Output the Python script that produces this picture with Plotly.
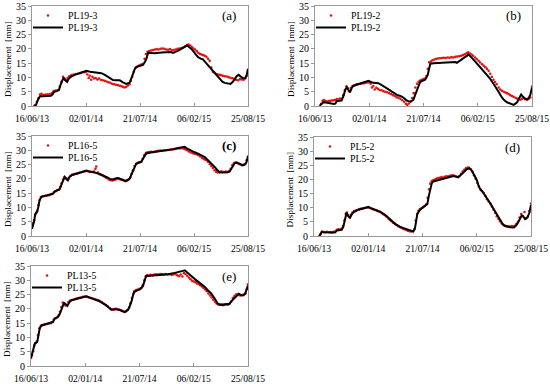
import pandas as pd
import plotly.graph_objects as go

START = "2013-06-16"
END = "2015-08-25"
tick_dates = ["2013-06-16", "2014-01-02", "2014-07-21", "2015-02-06", "2015-08-25"]
tick_labels = ["16/06/13", "02/01/14", "21/07/14", "06/02/15", "25/08/15"]
y_ticks = [0, 5, 10, 15, 20, 25, 30, 35]
y_title = "Displacement  [mm]"

# ---- (a) PL19-3 : measured (dots) and modelled (line); days since 16/06/13 ----
a_meas_days = [8,13,18,24,30,35,42,50,58,66,74,80,88,96,103,109,115,120,126,132,138,146,154,162,170,178,186,194,200,205,210,214,219,224,230,236,242,248,255,262,269,276,283,290,297,304,311,318,325,331,337,343,349,355,361,366,371,377,383,390,397,404,411,417,422,428,434,441,448,455,462,469,476,483,490,497,504,511,518,525,532,539,546,553,560,567,574,580,586,592,598,604,610,616,622,628,634,640,646,652,658,664,670,676,682,688,694,700,707,714,721,728,735,742,749,756,763,770,777,784,790,795,800]
a_meas_vals = [0.0,0.3,1.5,2.8,4.0,4.3,3.9,4.0,4.1,4.2,4.5,5.2,5.4,5.6,6.8,8.5,10.2,9.6,9.2,9.8,10.4,10.8,11.0,11.2,11.3,11.5,11.7,11.8,11.9,11.0,9.8,10.6,9.2,10.2,9.6,9.8,9.3,9.6,9.2,9.0,8.8,8.6,8.3,8.1,7.8,7.6,7.4,7.3,7.1,6.9,6.7,6.5,6.7,7.2,7.6,8.8,10.2,12.0,13.4,13.8,14.2,14.5,14.8,16.5,18.2,19.0,19.2,19.4,19.6,19.8,19.9,19.8,20.0,20.1,20.0,19.8,19.7,19.9,19.5,19.6,19.8,20.0,20.1,20.3,20.5,20.9,21.3,21.5,21.2,20.6,20.1,19.8,19.2,18.6,18.2,18.0,17.8,17.6,17.2,16.5,15.8,13.5,12.0,11.6,11.2,11.0,10.9,10.8,10.6,10.4,10.3,10.1,9.9,9.7,9.5,9.2,9.0,9.4,9.3,9.2,9.6,10.5,12.5]
a_model_days = [10,16,22,30,40,55,70,76,82,92,100,106,112,117,123,130,136,142,158,183,201,215,232,257,270,281,290,300,312,325,337,349,362,368,374,380,386,398,411,417,423,430,454,480,504,515,522,530,540,553,565,575,585,596,605,615,625,633,645,658,668,677,686,695,705,714,725,735,743,751,758,765,772,781,790,795,800]
a_model_vals = [0.0,0.6,2.2,3.4,3.4,3.5,3.6,4.0,5.0,5.2,5.6,7.5,9.2,9.9,9.0,8.4,9.5,10.1,10.9,11.6,12.3,12.0,11.8,11.5,10.9,10.2,9.5,9.1,9.0,9.0,8.3,7.7,8.2,9.5,11.2,12.8,13.6,14.0,14.4,15.2,16.3,18.6,18.5,18.7,18.9,18.9,18.6,18.8,19.3,20.0,20.6,21.2,20.4,19.4,18.2,17.1,16.6,16.3,15.0,13.6,12.5,11.6,10.4,9.3,8.5,8.1,7.9,7.7,8.4,9.5,10.4,10.9,10.3,9.7,9.8,10.8,13.0]

# ---- (b) PL19-2 ----
b_meas_days = [18,23,28,33,38,44,50,56,62,68,74,80,86,92,98,104,110,116,121,126,132,138,145,152,159,166,173,180,187,194,200,205,210,215,220,226,232,238,245,252,259,266,273,280,287,294,301,308,315,322,329,335,340,346,352,358,364,370,376,382,388,394,400,406,411,416,421,427,433,440,447,454,461,468,475,482,489,496,503,510,517,524,531,538,545,552,559,565,571,577,583,590,596,603,609,616,622,628,634,640,646,652,658,664,670,677,683,689,696,702,708,714,720,726,732,739,745,751,757,763,769,775,782,788,794,800]
b_meas_vals = [0.0,0.8,1.8,2.1,1.7,1.6,1.7,1.8,1.9,2.0,2.1,2.4,2.3,2.6,2.5,3.8,5.5,6.9,6.2,5.2,6.3,7.0,7.2,7.5,7.6,7.7,7.9,8.0,8.1,8.2,8.3,7.8,6.5,7.0,5.8,6.4,6.0,5.6,5.5,5.2,5.0,4.8,4.5,4.2,3.8,3.5,3.1,2.8,2.5,2.0,1.5,0.8,0.4,0.9,1.5,2.8,4.5,6.5,7.8,8.5,8.9,9.2,9.4,9.6,10.5,13.0,15.3,15.6,16.0,16.3,16.5,16.6,16.7,16.8,16.9,16.8,17.0,16.9,17.1,17.0,17.2,17.3,17.4,17.6,17.8,18.1,18.5,18.8,18.4,18.0,17.6,17.0,16.4,15.8,15.2,14.6,14.1,13.6,13.0,12.3,11.3,10.2,9.2,8.4,7.6,6.5,5.8,5.3,5.0,4.7,4.5,4.2,3.8,3.5,3.2,2.9,2.6,2.4,2.2,2.5,2.8,2.4,2.2,2.5,3.0,6.8]
b_model_days = [18,25,31,40,55,70,76,80,90,98,105,112,117,123,129,136,142,155,166,182,197,206,215,234,246,258,268,277,290,302,312,320,330,338,345,351,357,363,369,375,382,388,398,406,415,420,425,437,449,468,486,500,511,517,523,530,542,555,566,575,585,594,603,612,622,634,646,658,671,680,689,698,708,720,732,739,745,752,760,767,775,782,788,794,800]
b_model_vals = [0.2,1.0,1.3,1.2,0.9,0.7,0.9,1.7,1.8,1.9,3.5,5.8,6.5,5.5,4.8,6.4,7.1,7.5,7.8,8.3,8.8,8.4,8.1,8.0,7.4,6.6,6.0,5.4,4.6,3.9,3.6,3.3,2.6,1.9,1.7,1.6,1.8,2.2,3.8,5.4,7.2,8.5,8.9,9.2,10.7,13.0,14.8,15.0,15.1,15.2,15.3,15.5,15.6,15.4,15.1,15.6,16.5,17.3,18.0,17.2,16.3,15.2,14.2,13.2,12.4,11.0,9.5,7.8,6.0,4.5,3.0,2.0,1.3,0.8,0.4,0.8,1.3,2.6,4.0,3.2,2.5,2.4,2.8,4.0,6.5]

# ---- (c) PL16-5 ----
c_meas_days = [0,4,8,12,16,20,24,28,33,39,45,51,57,63,69,75,81,87,93,99,105,110,115,120,125,130,136,142,148,154,160,167,174,181,188,195,202,209,216,223,230,235,238,244,250,256,262,268,274,280,286,292,298,304,310,316,322,328,334,340,346,352,358,364,369,374,380,386,392,398,404,410,416,422,428,434,441,448,455,462,469,476,483,490,497,504,511,518,525,532,539,546,553,560,567,574,581,588,595,602,609,616,623,630,637,644,651,658,664,670,676,682,688,694,700,706,712,718,724,730,736,742,748,754,760,766,772,778,784,790,795,800]
c_meas_vals = [3.8,4.5,5.5,7.5,8.2,8.8,10.8,12.6,13.6,13.9,14.0,14.1,14.2,14.3,14.5,14.7,15.3,15.6,16.0,16.3,17.2,18.5,19.8,20.6,20.2,19.8,20.4,21.0,21.4,21.6,21.8,21.9,22.1,22.3,22.5,22.7,22.8,22.6,22.4,22.5,22.6,23.5,24.3,22.2,21.7,21.5,21.2,20.8,20.4,20.1,19.7,19.5,19.4,19.6,19.8,20.1,20.0,19.8,19.6,19.4,19.2,19.4,19.8,20.5,21.8,23.0,24.5,25.3,25.6,25.8,26.0,27.0,28.3,29.0,29.3,29.4,29.5,29.4,29.6,29.7,29.8,29.9,29.8,30.0,30.0,30.1,30.2,30.3,30.4,30.5,30.6,30.6,30.7,30.6,30.4,30.0,29.6,29.2,29.0,28.8,28.6,28.3,27.8,27.3,26.9,26.6,26.0,25.2,24.5,23.8,23.0,22.5,22.2,22.3,22.6,22.5,22.4,22.6,22.4,22.7,23.5,24.8,25.5,25.7,25.6,25.2,25.0,24.8,24.9,25.3,26.5,27.8]
c_model_days = [0,4,8,12,18,22,28,35,48,59,72,78,84,95,102,110,115,121,127,133,140,146,158,170,185,201,214,226,240,251,260,269,279,288,300,309,318,325,331,340,349,356,362,368,374,380,386,397,405,411,417,423,440,454,475,504,525,541,555,565,575,590,603,615,628,640,650,658,668,677,686,695,705,714,724,732,738,744,750,757,763,769,775,781,788,794,800]
c_model_vals = [2.5,3.8,5.2,7.6,8.3,9.5,12.5,13.7,14.0,14.2,14.6,14.8,15.6,16.0,16.3,18.2,19.3,20.7,20.0,19.5,20.8,21.2,21.6,21.9,22.4,22.8,22.6,22.4,22.0,21.6,21.3,21.0,20.5,20.0,19.8,20.1,20.3,20.1,19.8,19.5,19.3,19.6,20.1,21.5,23.0,24.3,25.3,25.7,25.9,27.0,28.2,28.9,29.2,29.4,29.7,30.0,30.4,30.8,31.1,31.2,30.6,29.8,29.3,28.8,28.2,27.6,26.7,26.0,25.0,24.1,23.1,22.3,22.2,22.2,22.3,22.6,23.5,24.7,25.4,25.7,25.6,25.3,25.0,24.8,25.0,25.7,27.9]

# ---- (d) PL5-2 ----
d_meas_days = [20,25,30,36,42,48,54,60,66,72,78,84,90,96,102,107,112,117,121,126,131,136,142,148,154,160,166,172,178,184,190,196,202,208,214,220,226,232,238,244,250,256,262,268,274,280,286,292,298,304,310,316,322,328,334,340,346,352,358,364,370,375,380,385,390,396,402,408,414,419,424,429,434,440,446,452,458,464,470,476,482,488,494,500,506,512,518,524,530,536,542,548,554,560,566,572,578,584,590,596,602,608,614,620,626,632,638,644,650,656,662,668,674,680,686,692,698,704,710,716,722,728,734,740,746,752,758,764,770,776,782,788,794,800]
d_meas_vals = [0.0,0.8,1.6,1.4,1.3,1.5,1.3,1.4,1.2,1.5,1.6,2.2,2.4,2.3,2.6,3.5,5.5,7.8,8.3,7.2,6.6,7.5,8.3,8.8,9.0,9.2,9.4,9.6,9.7,9.8,10.0,10.1,10.2,9.9,9.6,9.4,9.2,9.0,8.7,8.5,8.1,7.7,7.3,6.8,6.2,5.7,5.2,4.7,4.3,3.9,3.5,3.2,2.9,2.6,2.4,2.1,1.9,1.7,1.6,1.7,2.5,5.5,7.8,8.8,9.4,9.8,10.2,10.6,11.2,13.5,16.5,18.5,19.4,19.8,20.0,20.3,20.5,20.6,20.8,20.7,20.9,21.1,21.0,21.3,21.4,21.5,21.3,21.0,20.8,21.2,22.0,22.8,23.4,23.9,24.2,24.1,23.6,22.8,21.5,20.2,18.8,17.5,16.4,15.8,15.2,14.2,13.0,12.2,11.5,10.4,9.3,8.2,7.0,6.0,5.2,4.4,3.9,3.6,3.5,3.4,3.3,3.5,3.4,3.6,4.2,5.0,6.5,7.8,7.0,8.5,6.2,6.8,8.8,11.5]
d_model_days = [20,28,34,47,62,77,84,102,108,114,120,127,133,139,145,163,182,200,212,225,243,262,280,299,317,336,354,366,372,377,381,391,409,418,423,428,434,440,465,489,514,525,532,544,555,563,573,580,587,594,600,606,612,621,630,640,649,658,667,676,686,695,704,714,723,737,745,753,760,766,772,778,787,794,800]
d_model_vals = [0.0,1.4,1.3,1.2,1.1,1.2,1.9,2.2,3.2,6.0,8.2,7.0,6.5,7.6,8.4,9.3,9.8,10.2,9.7,9.3,8.6,7.5,5.8,4.3,3.2,2.6,1.8,1.6,2.6,5.5,7.8,9.3,10.5,11.3,14.0,16.6,18.6,19.3,20.0,20.6,21.2,21.0,20.8,21.8,23.0,23.6,23.9,23.3,22.2,21.0,19.8,18.0,16.6,15.7,14.6,13.0,11.7,10.3,8.9,7.2,5.5,4.3,3.5,3.2,3.1,3.0,3.7,4.9,6.4,7.3,6.8,6.0,6.6,8.2,11.0]

# ---- (e) PL13-5 ----
e_meas_days = [0,4,8,12,16,21,26,31,36,42,48,54,60,66,72,78,84,90,96,102,107,112,117,122,127,132,138,144,150,157,164,171,178,185,192,199,206,213,220,227,234,241,248,255,262,269,276,283,290,296,302,308,314,320,326,332,338,344,350,356,362,367,372,377,382,388,394,400,406,412,418,423,429,435,441,448,455,462,469,476,483,490,497,504,511,518,525,532,539,546,552,558,564,570,576,582,588,594,600,606,612,618,624,630,636,642,648,654,660,666,672,678,684,690,696,702,708,714,720,726,732,738,744,750,756,762,768,774,780,786,791,796,800]
e_meas_vals = [2.8,3.8,5.2,7.2,8.0,8.6,10.8,13.2,14.0,14.3,14.4,14.6,14.7,14.9,15.0,15.3,16.2,16.6,17.0,17.8,19.0,20.6,22.2,21.8,21.2,21.4,22.4,22.9,23.1,23.3,23.5,23.7,23.9,24.0,24.2,24.3,24.2,24.0,23.8,23.6,23.4,23.2,23.0,22.7,22.3,21.8,21.3,20.8,20.2,19.8,19.8,19.9,20.0,19.8,19.7,19.5,19.2,18.9,19.1,19.6,20.5,22.0,23.8,25.2,26.2,26.6,26.8,27.0,27.3,28.3,30.0,31.4,31.8,31.6,31.9,31.8,32.0,32.1,32.0,32.2,32.1,32.0,32.2,32.0,32.1,31.9,32.0,32.2,31.8,31.4,32.0,31.3,32.5,32.2,31.6,31.0,30.4,29.8,29.6,29.3,28.9,28.7,28.3,27.8,27.3,26.8,26.2,25.4,24.7,24.0,23.2,22.5,21.9,21.5,21.4,21.5,21.3,21.4,21.6,21.4,21.8,22.6,23.8,24.5,25.0,25.1,24.8,24.7,24.9,25.0,25.4,27.0,28.6]
e_model_days = [0,7,14,23,32,38,50,63,75,81,87,100,106,112,122,128,134,141,149,160,173,190,204,215,229,241,253,265,278,288,296,305,315,324,333,340,345,352,358,364,370,375,380,390,401,407,413,419,425,440,456,480,505,530,548,560,567,574,583,591,603,616,628,640,652,665,677,689,700,714,725,732,740,751,758,766,774,782,790,796,800]
e_model_vals = [2.8,4.9,7.8,8.4,13.1,14.2,14.5,14.8,15.1,15.4,16.6,17.2,18.2,19.5,22.2,21.5,21.0,22.3,23.0,23.3,23.6,24.0,24.4,24.0,23.6,23.1,22.6,22.0,21.2,20.4,19.8,19.8,19.9,19.7,19.5,19.1,18.9,19.2,19.7,21.0,22.4,24.3,25.9,26.4,26.8,27.3,28.0,30.0,31.5,31.6,31.7,31.9,32.1,32.6,32.9,33.3,33.5,33.0,32.2,31.5,30.5,29.6,28.6,27.7,26.5,25.3,23.6,21.8,21.4,21.5,21.5,21.8,22.8,23.8,24.8,25.3,24.8,24.7,25.4,26.8,28.2]

panel_names = ["PL19-3", "PL19-2", "PL16-5", "PL5-2", "PL13-5"]
panel_letters = ["(a)", "(b)", "(c)", "(d)", "(e)"]
meas_days = [a_meas_days, b_meas_days, c_meas_days, d_meas_days, e_meas_days]
meas_vals = [a_meas_vals, b_meas_vals, c_meas_vals, d_meas_vals, e_meas_vals]
model_days = [a_model_days, b_model_days, c_model_days, d_model_days, e_model_days]
model_vals = [a_model_vals, b_model_vals, c_model_vals, d_model_vals, e_model_vals]

W, H = 550, 384
# plot-area boxes in pixels: (left, right, top, bottom)
boxes = [(32, 248, 6, 106), (315, 532, 6, 106), (32, 248, 136, 236),
         (314, 531, 137, 236), (31, 248, 266, 366)]

FONT = "Liberation Serif"
t0 = pd.Timestamp(START)
def to_dates(days):
    return [t0 + pd.Timedelta(days=d) for d in days]

fig = go.Figure()
layout = dict(width=W, height=H, margin=dict(l=0, r=0, t=0, b=0, autoexpand=False),
              autosize=False, template="none",
              paper_bgcolor="white", plot_bgcolor="white", showlegend=True,
              font=dict(family=FONT, size=10, color="black"),
              annotations=[])
for i in range(5):
    n = "" if i == 0 else str(i + 1)
    L, R, T, B = boxes[i]
    lg_m = "legend" if i == 0 else "legend" + str(2 * i + 1)
    lg_l = "legend" + str(2 * i + 2)
    fig.add_trace(go.Scatter(x=to_dates(meas_days[i]), y=meas_vals[i], mode="markers",
                             marker=dict(size=2.6, color="rgb(226,20,20)"), showlegend=True,
                             name=panel_names[i], xaxis="x" + n, yaxis="y" + n, legend=lg_m))
    fig.add_trace(go.Scatter(x=to_dates(model_days[i]), y=model_vals[i], mode="lines",
                             line=dict(color="black", width=2), showlegend=True,
                             name=panel_names[i], xaxis="x" + n, yaxis="y" + n, legend=lg_l))
    layout["xaxis" + n] = dict(domain=[L / W, R / W], anchor="y" + n, type="date",
                               automargin=False, ticklabeloverflow="allow",
                               ticklabelstandoff=3,
                               range=[START, END], tickvals=tick_dates, ticktext=tick_labels,
                               ticks="inside", ticklen=3, tickcolor="#999",
                               showline=True, linecolor="#999", linewidth=1, mirror=True,
                               showgrid=False, zeroline=False,
                               tickfont=dict(size=9.6, family=FONT))
    layout["yaxis" + n] = dict(domain=[1 - B / H, 1 - T / H], anchor="x" + n,
                               automargin=False,
                               range=[0, 35], tickvals=y_ticks, ticks="outside", ticklen=3,
                               tickcolor="#999", showline=True, linecolor="#999", linewidth=1,
                               mirror=True, showgrid=False, zeroline=False,
                               tickfont=dict(size=10, family=FONT))
    for lg, dy in ((lg_m, 9.5), (lg_l, 21.5)):
        layout[lg] = dict(x=(L - 4) / W, y=1 - (T + dy) / H, xanchor="left", yanchor="middle",
                          bgcolor="rgba(0,0,0,0)", font=dict(size=9.8, family=FONT),
                          itemwidth=30)
    layout["annotations"].append(dict(
        text=("<b>%s</b>" % panel_letters[i]) if i == 2 else panel_letters[i],
        x=(R - 19) / W, y=1 - (T + 10) / H, xref="paper", yref="paper",
        xanchor="center", yanchor="middle",
        showarrow=False, font=dict(size=13, family=FONT)))
    layout["annotations"].append(dict(
        text=y_title, textangle=-90,
        x=(L - 24) / W, y=1 - ((T + B) / 2 + 3) / H, xref="paper", yref="paper",
        xanchor="center", yanchor="middle",
        showarrow=False, font=dict(size=9.2, family=FONT)))

fig.update_layout(**layout)
fig.write_html("out.html", config={"displayModeBar": False},
               post_script="document.body.style.margin='0';")
